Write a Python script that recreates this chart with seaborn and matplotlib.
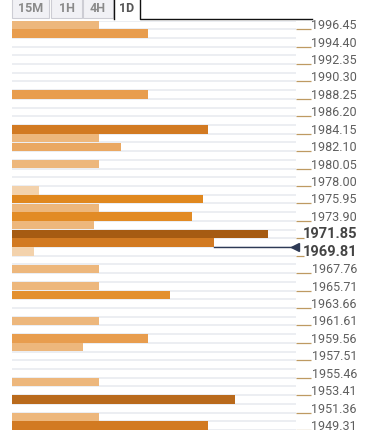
import numpy as np
import pandas as pd
import matplotlib
matplotlib.use("Agg")
import matplotlib.pyplot as plt
from matplotlib.patches import Rectangle
import seaborn as sns

# slot 0 is the top row of the ladder, each slot is half a label step
slots = [0, 1, 8, 12, 13, 14, 16, 19, 20, 21, 22, 23, 24, 25, 26,
         28, 30, 31, 34, 36, 37, 41, 43, 45, 46]
strength = [4.0, 6.25, 6.25, 9.0, 4.0, 5.0, 4.0, 1.25, 8.75, 4.0, 8.25, 3.75, 11.75, 9.25, 1.0,
            4.0, 4.0, 7.25, 4.0, 6.25, 3.25, 4.0, 10.25, 4.0, 9.0]
bar_colors = ["#EDB77C", "#E89D4E", "#E89D4E", "#D27A22", "#EDB77C", "#EAA862", "#EDB77C",
              "#F3D2AC", "#E0881F", "#EDB77C", "#E28B25", "#EDB77C", "#A65B12", "#D27A22",
              "#F3D2AC", "#EDB77C", "#EDB77C", "#E3902F", "#EDB77C", "#E89D4E", "#EDB77C",
              "#EDB77C", "#B96A1C", "#EDB77C", "#D27A22"]

tick_labels = ["1996.45", "1994.40", "1992.35", "1990.30", "1988.25", "1986.20",
               "1984.15", "1982.10", "1980.05", "1978.00", "1975.95", "1973.90",
               "1971.85", "1969.81", "1967.76", "1965.71", "1963.66", "1961.61",
               "1959.56", "1957.51", "1955.46", "1953.41", "1951.36", "1949.31"]
bold_labels = ["1971.85", "1969.81"]
price_slot = 25
tabs = ["15M", "1H", "4H", "1D"]

df = pd.DataFrame({"slot": slots, "strength": strength,
                   "key": [str(s) for s in slots]})
palette = dict(zip(df["key"], bar_colors))

W, H = 368, 430
fig = plt.figure(figsize=(W / 100, H / 100), dpi=100)
top = 20.5
ax = fig.add_axes([12 / W, 0, 284 / W, (H - top) / H])

sns.barplot(data=df, x="strength", y="slot", hue="key", palette=palette,
            orient="h", native_scale=True, dodge=False, legend=False,
            width=0.96, saturation=1, errorbar=None, ax=ax)

row_h = (H - top) / 46.64
xmax = 284 / 21.8
ax.set_xlim(0, xmax)
ax.set_ylim((H - top) / row_h - 0.5, -0.5)

tick_pos = [0.5 + 2 * i for i in range(len(tick_labels))]
ax.set_yticks(np.arange(-0.5, 47, 1), minor=True)
ax.set_yticks(tick_pos)
ax.set_yticklabels([])
ax.set_xticks([])
ax.set_xlabel("")
ax.set_ylabel("")
ax.set_axisbelow(True)
ax.grid(which="both", axis="y", color="#ECEEF2", lw=1.4)
ax.tick_params(axis="y", which="major", left=False, right=True, labelleft=False,
               length=15 * 0.72, width=0.9, color="#BE9A62")
ax.tick_params(axis="y", which="minor", left=False, right=False)
for s in ax.spines.values():
    s.set_visible(False)

for tick, lab in zip(ax.yaxis.get_major_ticks(), tick_labels):
    if lab in bold_labels:
        tick.tick2line.set_markersize(8 * 0.72)

label_x = (357 - 12) / 284
for pos, lab in zip(tick_pos, tick_labels):
    if lab in bold_labels:
        ax.text(label_x, pos, lab, transform=ax.get_yaxis_transform(), ha="right",
                va="baseline", fontsize=10.5, fontweight="bold", color="#444444",
                family="Roboto", clip_on=False)
    else:
        ax.text(label_x, pos, lab, transform=ax.get_yaxis_transform(), ha="right",
                va="baseline", fontsize=9, color="#5E5E5E", family="Roboto",
                clip_on=False)

# current price line
start = strength[slots.index(price_slot)]
ax.plot([start, xmax], [price_slot + 0.5] * 2, color="#2E3A55", lw=1, clip_on=False)
ax.plot([xmax - 0.05], [price_slot + 0.5], marker="<", ms=6, color="#2E3A55",
        clip_on=False)

# timeframe tabs
over = fig.add_axes([0, 0, 1, 1], facecolor="none")
over.set_xlim(0, W)
over.set_ylim(H, 0)
over.axis("off")
tab_x = [(12, 49), (51, 82), (83, 113), (114, 140)]
for (x0, x1), name in zip(tab_x, tabs):
    active = name == "1D"
    if not active:
        over.add_patch(Rectangle((x0, -2), x1 - x0, 20, facecolor="#F1F1F5",
                                 edgecolor="#CDCDD4", lw=0.8))
        over.text((x0 + x1) / 2, 8, name, ha="center", va="center", fontsize=9,
                  fontweight="bold", color="#8A8A8A", family="Roboto")
    else:
        over.plot([x0, x0, x1, x1, 312], [-2, 19, 19, 19, 19], color="white", lw=0)
        over.plot([x0, x0], [-2, 19], color="#111111", lw=1)
        over.plot([x1, x1, 312], [-2, 19, 19], color="#111111", lw=1)
        over.text((x0 + x1) / 2, 8, name, ha="center", va="center", fontsize=9,
                  fontweight="bold", color="#555555", family="Roboto")

fig.savefig("out.png", dpi=100)
